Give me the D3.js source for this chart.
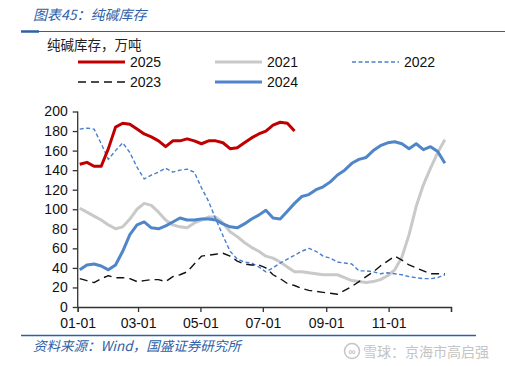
<!DOCTYPE html>
<html><head><meta charset="utf-8">
<script src="https://cdn.jsdelivr.net/npm/d3@7/dist/d3.min.js"></script>
<style>
html,body{margin:0;padding:0;background:#fff;}
svg{display:block;font-family:"Liberation Sans",Arial,sans-serif;}
</style></head>
<body><svg id="c" width="505" height="366"></svg>
<script>
const title = "图表45：纯碱库存";
const unitLabel = "纯碱库存，万吨";
const sourceText = "资料来源：Wind，国盛证券研究所";
const watermark = "雪球：京海市高启强";

const seriesNames = ["2025","2021","2022","2023","2024"];
const monthTicks = ["01-01","03-01","05-01","07-01","09-01","11-01",""];
const yTicks = [0,20,40,60,80,100,120,140,160,180,200];

const v2021 = [101,97,93,89,84,80,82,90,100,106,104,97,89,84,82,81,86,89,92,92,86,77,72,66,61,57,52,50,46,41,36,36,35,34,33,33,33,30,27,26,25,26,28,32,38,51,74,103,125,142,158,171];
const v2022 = [182,183,182,167,151,160,168,158,143,131,135,138,142,138,140,141,138,122,108,90,73,57,49,46,45,41,36,40,45,49,53,57,60,57,52,50,46,45,44,37,37,36,34,35,34,33,31,30,29,29,30,33];
const v2023 = [29,27,25,29,32,30,30,29,26,27,28,28,26,31,33,36,44,52,53,54,55,52,47,44,43,43,40,33,29,24,22,19,17,16,15,14,13,17,21,26,31,36,42,47,52,48,43,40,37,34,34,34];
const v2024 = [38,43,44,42,38,43,57,74,84,87,81,80,83,87,91,89,89,90,90,89,85,82,81,85,90,94,99,91,90,98,106,113,115,120,123,128,135,140,147,151,153,160,165,168,169,167,162,167,161,164,159,147];
const v2025 = [146,148,144,144,162,184,188,187,182,177,174,170,164,170,170,172,170,167,170,170,168,162,163,168,173,177,180,186,189,188,180];

const svg = d3.select("#c");
const base = new Date(2023,0,3);
const weekDate = i => d3.timeDay.offset(base, 7*i);

const x = d3.scaleTime().domain([new Date(2023,0,1), new Date(2024,0,1)]).range([77.7, 451]);
const y = d3.scaleLinear().domain([0,200]).range([307, 111.5]);

// title & frame lines
svg.append("text").attr("x",33).attr("y",20).attr("fill","#2E5FA8")
  .attr("font-family","'Noto Sans CJK SC',sans-serif").attr("font-size",14).attr("font-style","italic").text(title);
svg.append("line").attr("x1",21).attr("x2",505).attr("y1",31.5).attr("y2",31.5).attr("stroke","#2E5FA8").attr("stroke-width",1);
svg.append("line").attr("x1",21).attr("x2",39).attr("y1",31.5).attr("y2",31.5).attr("stroke","#2E5FA8").attr("stroke-width",2.5);
svg.append("line").attr("x1",21).attr("x2",476).attr("y1",335.5).attr("y2",335.5).attr("stroke","#2E5FA8").attr("stroke-width",1.5);
svg.append("text").attr("x",33).attr("y",351).attr("fill","#2E5FA8")
  .attr("font-family","'Noto Sans CJK SC',sans-serif").attr("font-size",13.5).attr("font-style","italic").text(sourceText);

// watermark
const wm = svg.append("g").attr("fill","#c4c4c4");
wm.append("circle").attr("cx",352).attr("cy",351).attr("r",7.5).attr("fill","none").attr("stroke","#c4c4c4").attr("stroke-width",1.5);
wm.append("text").attr("x",352).attr("y",355).attr("text-anchor","middle").attr("font-size",10).attr("font-weight","bold").text("∞");
wm.append("text").attr("x",363).attr("y",356.5).attr("font-family","'Noto Sans CJK SC',sans-serif").attr("font-size",14).text(watermark);

// unit label
svg.append("text").attr("x",47).attr("y",50).attr("fill","#222")
  .attr("font-family","'Noto Sans CJK SC',sans-serif").attr("font-size",13.5).text(unitLabel);

// axes
const axisColor = "#333";
const yAxis = svg.append("g").attr("transform","translate(77.7,0)")
  .call(d3.axisLeft(y).tickValues(yTicks).tickSize(5).tickPadding(5));
const xTickDates = [0,2,4,6,8,10,12].map(m => new Date(2023,m,1));
const xAxis = svg.append("g").attr("transform","translate(0,307)")
  .call(d3.axisBottom(x).tickValues(xTickDates).tickSize(5).tickPadding(6).tickFormat((d,i)=>monthTicks[i]));
[yAxis,xAxis].forEach(a=>{
  a.select(".domain").attr("stroke",axisColor).attr("stroke-width",1.3);
  a.selectAll(".tick line").attr("stroke",axisColor).attr("stroke-width",1.3);
  a.selectAll(".tick text").attr("fill","#111").attr("font-size",14).attr("font-family","'Liberation Sans',Arial,sans-serif");
});
yAxis.select(".domain").attr("d","M0,111.5V307");

// series
const styles = {
  "2025":{data:v2025,color:"#C00000",w:3,dash:null},
  "2021":{data:v2021,color:"#C9C9C9",w:3,dash:null},
  "2022":{data:v2022,color:"#4A7FD0",w:1.4,dash:"4,2.5"},
  "2023":{data:v2023,color:"#111111",w:1.4,dash:"8,5"},
  "2024":{data:v2024,color:"#4F86C9",w:3,dash:null}
};
const line = d3.line().x((d,i)=>x(weekDate(i))).y(d=>y(d)).curve(d3.curveLinear);
const drawOrder = ["2021","2022","2023","2024","2025"];
drawOrder.forEach(k=>{
  const s = styles[k];
  svg.append("path").datum(s.data).attr("d",line).attr("fill","none")
    .attr("stroke",s.color).attr("stroke-width",s.w).attr("stroke-linejoin","round")
    .attr("stroke-dasharray",s.dash);
});

// legend
const legendPos = {
  "2025":[78,62],"2021":[215,62],"2022":[352,62],"2023":[78,82],"2024":[215,82]
};
seriesNames.forEach(k=>{
  const s = styles[k]; const [lx,ly] = legendPos[k];
  svg.append("line").attr("x1",lx).attr("x2",lx+47).attr("y1",ly).attr("y2",ly)
    .attr("stroke",s.color).attr("stroke-width",s.w).attr("stroke-dasharray",s.dash);
  svg.append("text").attr("x",lx+52).attr("y",ly+5).attr("font-size",14).attr("fill","#111").text(k);
});
</script></body></html>
